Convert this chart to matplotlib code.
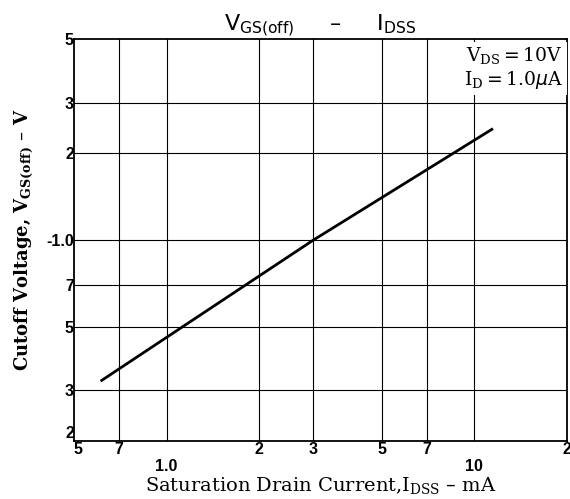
import matplotlib
matplotlib.use("Agg")
import matplotlib.pyplot as plt
from matplotlib.ticker import NullLocator

# data (mA, V)
idss = [0.61, 3.0, 11.5]
vgs_off = [0.323, 1.0, 2.44]

x_ticks = [0.5, 0.7, 1.0, 2, 3, 5, 7, 10, 20]
x_labels = ["5", "7", "1.0", "2", "3", "5", "7", "10", "2"]
y_ticks = [0.2, 0.3, 0.5, 0.7, 1.0, 2, 3, 5]
y_labels = ["2", "3", "5", "7", "-1.0", "2", "3", "5"]

serif = "DejaVu Serif"
tick_font = dict(family="Liberation Sans", weight="bold", size=11.5)

fig = plt.figure(figsize=(5.7, 4.99), dpi=100)
ax = fig.add_axes([0.1298, 0.1162, 0.8649, 0.8056])

ax.set_xscale("log")
ax.set_yscale("log")
ax.set_xlim(0.5, 20)
ax.set_ylim(0.2, 5)

# grid
for x in x_ticks[1:-1]:
    ax.axvline(x, color="black", lw=0.8, zorder=1)
for y in y_ticks[1:-1]:
    ax.axhline(y, color="black", lw=0.8, zorder=1)

ax.plot(idss, vgs_off, color="black", lw=2.0, solid_capstyle="butt", zorder=3)

for s in ax.spines.values():
    s.set_linewidth(1.3)

# ticks
ax.xaxis.set_minor_locator(NullLocator())
ax.yaxis.set_minor_locator(NullLocator())
ax.set_xticks(x_ticks)
ax.set_xticklabels(x_labels, fontdict=tick_font)
ax.set_yticks(y_ticks)
ax.set_yticklabels(y_labels, fontdict=tick_font)
ax.tick_params(axis="x", length=0, pad=1)
ax.tick_params(axis="y", length=0, pad=0)
for t, lab in zip(ax.xaxis.get_major_ticks(), x_labels):
    if len(lab) > 1:
        t.set_pad(13)
# corner labels: keep the two apart like the reference
ax.get_xticklabels()[0].set_ha("left")
ax.get_yticklabels()[0].set_va("bottom")

# condition box
ax.text(0.992, 0.985,
        "$\\mathregular{V_{DS}}$$=$10V\n$\\mathregular{I_{D}}$$=$1.0$\\mu$A",
        transform=ax.transAxes, ha="right", va="top", family=serif,
        fontsize=13.5, linespacing=1.2, zorder=5,
        bbox=dict(facecolor="white", edgecolor="none", pad=3))

ax.set_title("$\\mathregular{V_{GS(off)}}$     \u2013     $\\mathregular{I_{DSS}}$",
             family="DejaVu Sans", fontsize=16, pad=3)
ax.set_xlabel("Saturation Drain Current,$\\mathregular{I_{DSS}}$ \u2013 mA",
              family=serif, fontsize=14, labelpad=1)
ax.set_ylabel("Cutoff Voltage, $\\mathregular{V_{GS(off)}}$ \u2013 V",
              family=serif, fontsize=13, weight="bold", labelpad=8)

fig.savefig("out.png", dpi=100)
